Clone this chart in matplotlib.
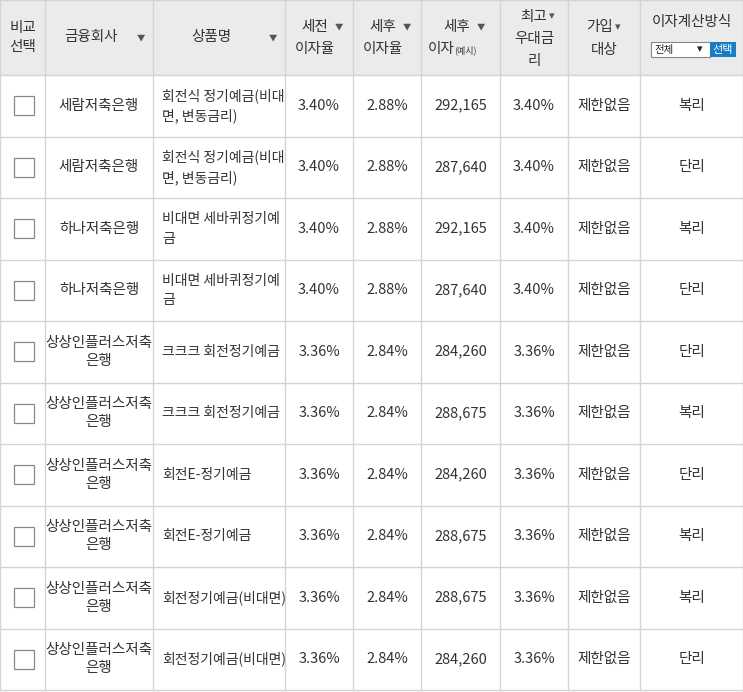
import matplotlib.pyplot as plt
from matplotlib.patches import Rectangle

plt.rcParams['font.family'] = ['Noto Sans CJK KR', 'DejaVu Sans']

headers = ["비교\n선택", "금융회사", "상품명", "세전\n이자율", "세후\n이자율", "세후\n이자", "최고\n우대금\n리", "가입\n대상", "이자계산방식"]
banks = ["세람저축은행", "세람저축은행", "하나저축은행", "하나저축은행",
         "상상인플러스저축\n은행", "상상인플러스저축\n은행", "상상인플러스저축\n은행",
         "상상인플러스저축\n은행", "상상인플러스저축\n은행", "상상인플러스저축\n은행"]
products = ["회전식 정기예금(비대\n면, 변동금리)", "회전식 정기예금(비대\n면, 변동금리)",
            "비대면 세바퀴정기예\n금", "비대면 세바퀴정기예\n금",
            "크크크 회전정기예금", "크크크 회전정기예금",
            "회전E-정기예금", "회전E-정기예금",
            "회전정기예금(비대면)", "회전정기예금(비대면)"]
pre_rate = ["3.40%"] * 4 + ["3.36%"] * 6
post_rate = ["2.88%"] * 4 + ["2.84%"] * 6
interest = ["292,165", "287,640", "292,165", "287,640", "284,260",
            "288,675", "284,260", "288,675", "288,675", "284,260"]
best_rate = ["3.40%"] * 4 + ["3.36%"] * 6
target = ["제한없음"] * 10
method = ["복리", "단리", "복리", "단리", "단리", "복리", "단리", "복리", "복리", "단리"]

cols = [0, 45, 153, 285, 353, 421, 500, 568, 640, 743]
head_h = 75
row_h = 61.5
W, H = 743, 692
line_c = "#d4d4d4"
txt_c = "#333333"
fs = 10.5

fig = plt.figure(figsize=(7.43, 6.92), dpi=100)
ax = fig.add_axes([0, 0, 1, 1])
ax.set_xlim(0, W)
ax.set_ylim(H, 0)
ax.axis("off")

ax.add_patch(Rectangle((0, 0), W, head_h, facecolor="#ebebeb", edgecolor="none"))

# header
for i, h in enumerate(headers):
    cx = (cols[i] + cols[i + 1]) / 2
    if i == 8:
        ax.text(cx, 22, h, ha="center", va="center", fontsize=fs, color=txt_c)
        ax.add_patch(Rectangle((651, 42), 59, 15, facecolor="white", edgecolor="#888888", lw=0.8))
        ax.text(654, 49.5, "전체", ha="left", va="center", fontsize=7.5, color="#222222")
        ax.text(700, 49.5, "▾", ha="center", va="center", fontsize=8, color="#222222")
        ax.add_patch(Rectangle((710, 42), 26, 15, facecolor="#1a7cc4", edgecolor="none"))
        ax.text(723, 49.5, "선택", ha="center", va="center", fontsize=8, color="white")
        continue
    if i in (1, 2):
        ax.text(cx - 8, head_h / 2, h, ha="center", va="center", fontsize=fs, color=txt_c)
        ax.text(cols[i + 1] - 12, head_h / 2, "▼", ha="center", va="center", fontsize=6, color="#555555")
    elif i in (3, 4, 5):
        top, bot = h.split("\n")
        ax.text(cx - 4, 27, top, ha="center", va="center", fontsize=fs, color=txt_c)
        ax.text(cx + 20, 27, "▼", ha="center", va="center", fontsize=6, color="#555555")
        if i == 5:
            ax.text(cx - 6, 49, bot, ha="right", va="center", fontsize=fs, color=txt_c)
            ax.text(cx - 6, 50, "(예시)", ha="left", va="center", fontsize=6.5, color=txt_c)
        else:
            ax.text(cx - 4, 49, bot, ha="center", va="center", fontsize=fs, color=txt_c)
    elif i == 6:
        for k, part in enumerate(h.split("\n")):
            ax.text(cx, 17 + 22 * k, part, ha="center", va="center", fontsize=fs, color=txt_c)
        ax.text(cx + 18, 16, "▾", ha="center", va="center", fontsize=8, color="#555555")
    elif i == 7:
        top, bot = h.split("\n")
        ax.text(cx - 4, 27, top, ha="center", va="center", fontsize=fs, color=txt_c)
        ax.text(cx + 14, 27, "▾", ha="center", va="center", fontsize=8, color="#555555")
        ax.text(cx, 50, bot, ha="center", va="center", fontsize=fs, color=txt_c)
    else:
        ax.text(cx, head_h / 2, h, ha="center", va="center", fontsize=fs, color=txt_c, linespacing=1.4)

# body
for r in range(len(banks)):
    cy = head_h + row_h * (r + 0.5)
    ax.add_patch(Rectangle((14, cy - 9.5), 20, 19, facecolor="white", edgecolor="#888888", lw=0.9))
    vals = [banks[r], products[r], pre_rate[r], post_rate[r], interest[r], best_rate[r], target[r], method[r]]
    for j, v in enumerate(vals, start=1):
        if j == 2:
            ax.text(cols[j] + 9, cy, v, ha="left", va="center", fontsize=10, color=txt_c, linespacing=1.5)
        else:
            ax.text((cols[j] + cols[j + 1]) / 2, cy, v, ha="center", va="center",
                    fontsize=fs, color=txt_c, linespacing=1.4)

# grid lines
bottom = head_h + row_h * len(banks)
for x in cols:
    ax.plot([x, x], [0, bottom], color=line_c, lw=1)
ax.plot([0, W], [0, 0], color=line_c, lw=1)
for r in range(len(banks) + 1):
    y = head_h + row_h * r
    ax.plot([0, W], [y, y], color=line_c, lw=1)

fig.savefig("out.png", dpi=100, facecolor="white")
